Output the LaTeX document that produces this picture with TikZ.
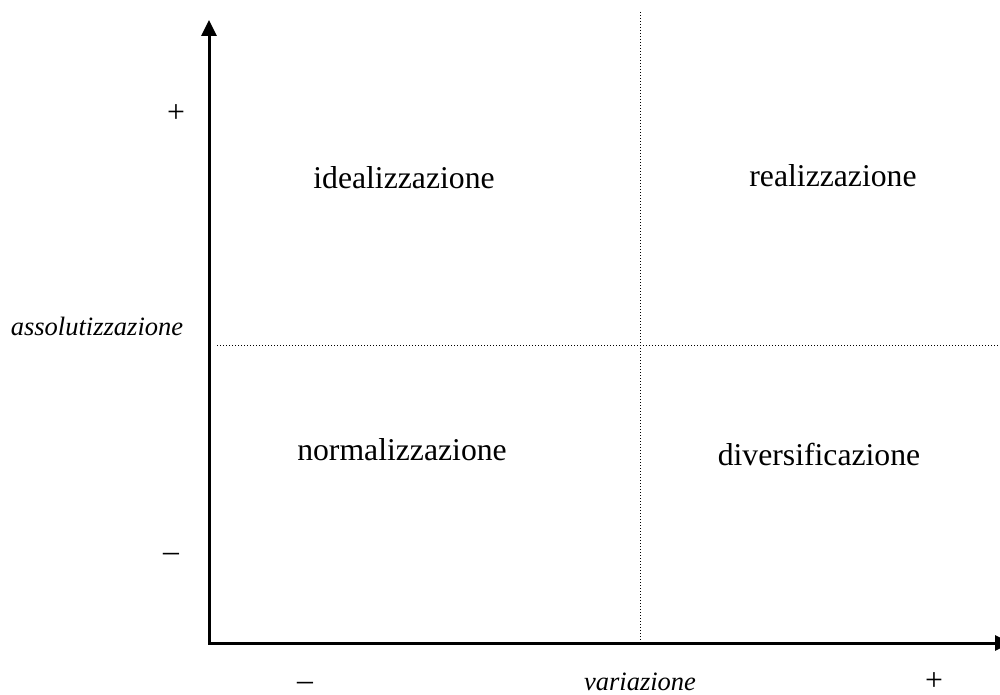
\documentclass[tikz,border=0pt]{standalone}
\usepackage{fontspec}
\setmainfont{Liberation Serif}
\usetikzlibrary{arrows.meta}
\begin{document}
\begin{tikzpicture}[x=1pt,y=-1pt,
  axis/.style={line width=3pt, line join=miter, {Triangle[length=16pt,width=15pt]}-{Triangle[length=16pt,width=15pt]}},
  gridline/.style={line width=1pt, dash pattern=on 1pt off 2pt},
  quad/.style={anchor=base, inner sep=0pt, font=\fontsize{31.7}{38}\selectfont},
  lab/.style={anchor=base, inner sep=0pt, font=\fontsize{26.5}{32}\selectfont\itshape},
  sign/.style={anchor=base, inner sep=0pt, font=\fontsize{31.7}{38}\selectfont}]
\useasboundingbox (0,0) rectangle (1000,695);
% axes
\coordinate (O) at (209,643);
\coordinate (ytop) at (209,20);
\coordinate (xend) at (1011,643);
\draw[axis] (ytop) -- (O) -- (xend);
% dotted dividers
\coordinate (vtop) at (640,12);
\coordinate (vbot) at (640,643);
\coordinate (hl) at (217,345);
\coordinate (hr) at (1000,345);
\draw[gridline] (vtop) -- (vbot);
\draw[gridline] (hl) -- (hr);
% quadrant labels
\node[quad] (ideal) at (404,188) {idealizzazione};
\node[quad] (real) at (833,186) {realizzazione};
\node[quad] (norm) at (402,460) {normalizzazione};
\node[quad] (div) at (819,465) {diversificazione};
% axis labels
\node[lab] (ass) at (97,335) {assolutizzazione};
\node[lab] (var) at (640,690) {variazione};
% signs
\node[sign] (yplus) at (176,123) {+};
\node[sign] (yminus) at (171,561) {–};
\node[sign] (xminus) at (305,690) {–};
\node[sign] (xplus) at (934,690) {+};
\end{tikzpicture}
\end{document}
